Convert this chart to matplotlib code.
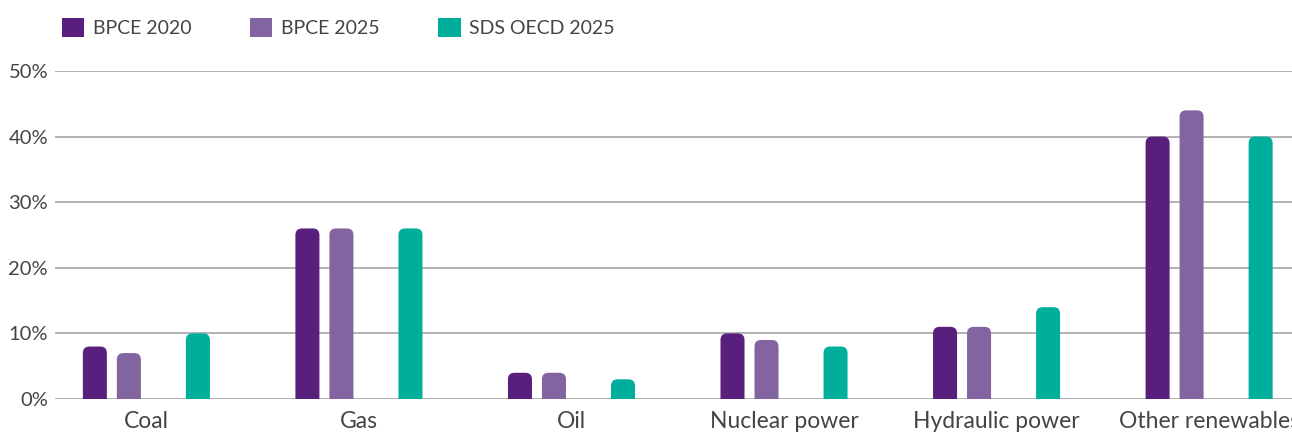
import matplotlib
matplotlib.use("Agg")
import matplotlib.pyplot as plt
from matplotlib.patches import FancyBboxPatch, Patch

categories = ["Coal", "Gas", "Oil", "Nuclear power", "Hydraulic power", "Other renewables"]
series_names = ["BPCE 2020", "BPCE 2025", "SDS OECD 2025"]
bpce_2020 = [8, 26, 4, 10, 11, 40]
bpce_2025 = [7, 26, 4, 9, 11, 44]
sds_oecd_2025 = [10, 26, 3, 8, 14, 40]
y_ticks = [0, 10, 20, 30, 40, 50]

colors = ["#58207c", "#8264a1", "#00ae9c"]
slot_offsets = [-0.2424, -0.0824, 0.2424]  # third slot of four left empty
bar_w = 0.113

plt.rcParams['font.family'] = ['Lato', 'DejaVu Sans']
text_color = "#444444"

fig = plt.figure(figsize=(12.92, 4.32), dpi=100)
ax = fig.add_axes([55/1292, 33/432, 1237/1292, 328/432])
ax.set_xlim(-0.43, 5.39)
ax.set_ylim(0, 50)

# gridlines
for t in y_ticks:
    ax.axhline(t, color="#a6a6a6", lw=1.2, zorder=1)

# rounded bars
r_x = 0.031
aspect = (50/328) / (5.82/1237)
for vals, col, off in zip([bpce_2020, bpce_2025, sds_oecd_2025], colors, slot_offsets):
    for i, v in enumerate(vals):
        x0 = i + off - bar_w/2
        p = FancyBboxPatch((x0, -3), bar_w, v + 3,
                           boxstyle=f"round,pad=0,rounding_size={r_x}",
                           mutation_aspect=aspect,
                           facecolor=col, edgecolor="none", zorder=3)
        ax.add_patch(p)

ax.set_yticks(y_ticks)
ax.set_yticklabels([f"{t}%" for t in y_ticks])
ax.set_xticks(range(len(categories)))
ax.set_xticklabels(categories)
ax.tick_params(axis='both', length=0, colors=text_color)
ax.tick_params(axis='y', pad=5, labelsize=14.5)
ax.tick_params(axis='x', pad=9, labelsize=16.5)
for s in ax.spines.values():
    s.set_visible(False)

handles = [Patch(facecolor=c, edgecolor='none') for c in colors]
leg = fig.legend(handles, series_names, loc='upper left',
                 bbox_to_anchor=(62/1292, (432-18)/432), ncol=3, frameon=False,
                 fontsize=14, handlelength=1.15, handleheight=1.15,
                 handletextpad=0.45, columnspacing=3.0, borderpad=0, borderaxespad=0)
for t in leg.get_texts():
    t.set_color(text_color)

fig.savefig("out.png", dpi=100)
